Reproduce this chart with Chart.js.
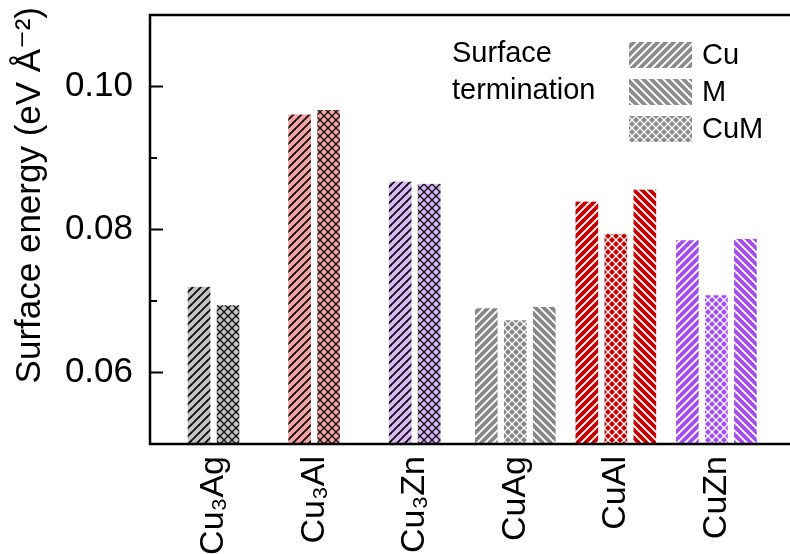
<!DOCTYPE html>
<html>
<head>
<meta charset="utf-8">
<script src="https://cdn.jsdelivr.net/npm/chart.js@4.4.1/dist/chart.umd.min.js"></script>
<style>
html, body { margin: 0; padding: 0; background: #fff; overflow: hidden; }
#wrap { width: 820px; height: 554px; }
</style>
</head>
<body>
<div id="wrap"><canvas id="myChart" width="820" height="554"></canvas></div>
<script>
// /////////////// values
const categories = ['Cu₃Ag', 'Cu₃Al', 'Cu₃Zn', 'CuAg', 'CuAl', 'CuZn'];
const cuTerm  = [0.0720, 0.0961, 0.0867, 0.0690, 0.0839, 0.0785];
const cumTerm = [0.0694, 0.0967, 0.0864, 0.0673, 0.0794, 0.0708];
const mTerm   = [null, null, null, 0.0692, 0.0856, 0.0787];
const yLabels = [0.06, 0.08, 0.10];

// /////////////// styles
const fillColors  = ['#c4c4c4', '#f5a4a4', '#dbb8f7', '#868686', '#c40000', '#a54cf0'];
const hatchColors = ['#111111', '#111111', '#111111', '#ffffff', '#ffffff', '#ffffff'];
const FONT = "'Liberation Sans', Arial, 'DejaVu Sans', sans-serif";

// small tile with diagonal lines: 'fwd' = ///, 'back' = \\\, 'cross' = both
const makePattern = function(bg, fg, kind){
    const s = 8;
    const c = document.createElement('canvas');
    c.width = s; c.height = s;
    const g = c.getContext('2d');
    g.fillStyle = bg;
    g.fillRect(0, 0, s, s);
    g.strokeStyle = fg;
    g.lineWidth = kind == 'cross' ? 1.3 : 1.9;
    for(let k = -1; k <= 1; k++){
        if(kind == 'fwd' || kind == 'cross'){
            g.beginPath(); g.moveTo(k*s - 1, s + 1); g.lineTo(k*s + s + 1, -1); g.stroke();
        }
        if(kind == 'back' || kind == 'cross'){
            g.beginPath(); g.moveTo(k*s - 1, -1); g.lineTo(k*s + s + 1, s + 1); g.stroke();
        }
    }
    return g.createPattern(c, 'repeat');
}
const patternsFor = kind => categories.map((c, i) => makePattern(fillColors[i], hatchColors[i], kind));

const isLabelled = v => yLabels.some(t => Math.abs(t - v) < 1e-9);

// /////////////// frame, inward ticks, y title and the legend box
const frameAndLegend = {
    id: 'frameAndLegend',
    afterDatasetsDraw(chart){
        const ctx = chart.ctx;
        const a = chart.chartArea;
        const y = chart.scales.y;
        ctx.save();
        ctx.strokeStyle = '#000';
        ctx.lineWidth = 2.5;
        ctx.strokeRect(a.left, a.top, a.right - a.left, a.bottom - a.top);
        ctx.lineWidth = 2;
        y.ticks.forEach(t => {
            const py = y.getPixelForValue(t.value);
            ctx.beginPath();
            ctx.moveTo(a.left, py);
            ctx.lineTo(a.left + (isLabelled(t.value) ? 13 : 7), py);
            ctx.stroke();
        });
        // y title, its end sits a little above the frame
        ctx.fillStyle = '#000';
        ctx.save();
        ctx.translate(30, 7);
        ctx.rotate(-Math.PI / 2);
        ctx.font = '35px ' + FONT;
        ctx.textAlign = 'right';
        ctx.textBaseline = 'middle';
        ctx.fillText('Surface energy (eV Å⁻²)', 0, 0);
        ctx.restore();
        // legend
        ctx.font = '29px ' + FONT;
        ctx.textBaseline = 'middle';
        ctx.textAlign = 'left';
        ctx.fillText('Surface', 452, 54);
        ctx.fillText('termination', 452, 91);
        const items = [['Cu', 'fwd'], ['M', 'back'], ['CuM', 'cross']];
        items.forEach((it, i) => {
            const top = 42 + i * 37;
            ctx.fillStyle = makePattern('#8c8c8c', '#ffffff', it[1]);
            ctx.fillRect(629, top, 63, 26);
            ctx.fillStyle = '#000';
            ctx.fillText(it[0], 702, top + 14);
        });
        ctx.restore();
    }
};

Chart.defaults.font.family = FONT;
Chart.defaults.color = '#000';

var ctx = document.getElementById('myChart').getContext('2d');
var myChart = new Chart(ctx, {
    type: 'bar',
    data: {
        labels: categories.map((c, i) => i),
        datasets: [
            { label: 'Cu',  data: cuTerm,  backgroundColor: patternsFor('fwd') },
            { label: 'CuM', data: cumTerm, backgroundColor: patternsFor('cross') },
            { label: 'M',   data: mTerm,   backgroundColor: patternsFor('back') }
        ]
    },
    options: {
        responsive: false,
        animation: false,
        skipNull: true,
        barThickness: 29,
        borderWidth: { left: 3.5, right: 3.5, top: 0, bottom: 0 },
        borderColor: 'rgba(0,0,0,0)',
        layout: { padding: { top: 15, right: 0, bottom: 0, left: 0 } },
        plugins: { legend: { display: false }, tooltip: { enabled: false } },
        scales: {
            x: {
                type: 'linear',
                bounds: 'data',
                offset: false,
                min: -0.632,
                max: 6.03,
                grid: { display: false, drawTicks: false },
                border: { display: false },
                ticks: {
                    autoSkip: false,
                    minRotation: 90,
                    maxRotation: 90,
                    padding: 12,
                    font: { size: 34 },
                    callback: v => categories[v]
                },
                // one tick per category
                afterBuildTicks: s => { s.ticks = categories.map((c, i) => ({ value: i })); },
                afterFit: s => { s.height = 110; s.paddingLeft = 0; s.paddingRight = 0; }
            },
            y: {
                min: 0.05,
                max: 0.11,
                grid: { display: false, drawTicks: false },
                border: { display: false },
                ticks: {
                    stepSize: 0.01,
                    padding: 17,
                    font: { size: 35 },
                    callback: v => isLabelled(v) ? v.toFixed(2) : ''
                },
                afterFit: s => { s.width = 150; s.paddingTop = 0; s.paddingBottom = 0; }
            }
        }
    },
    plugins: [frameAndLegend]
});
</script>
</body>
</html>
